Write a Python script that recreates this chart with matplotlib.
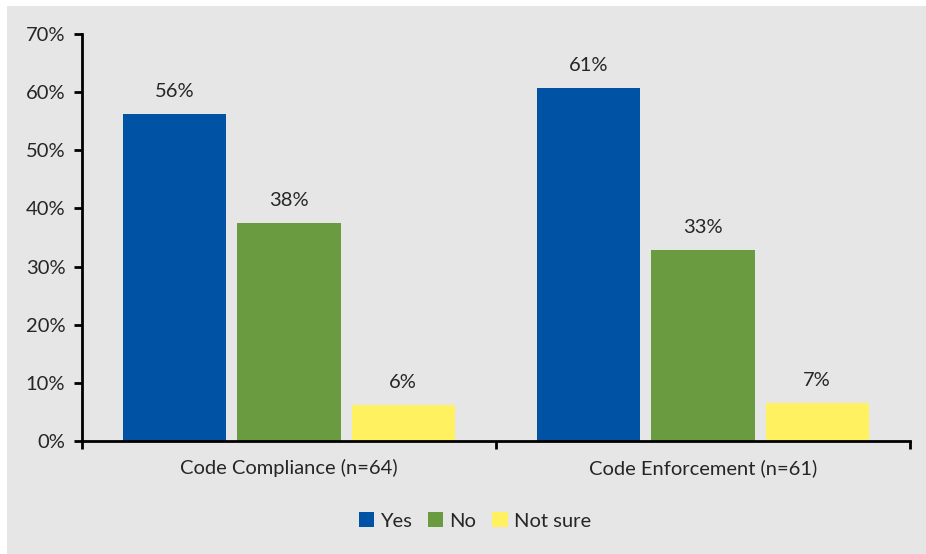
import matplotlib
matplotlib.use("Agg")
import matplotlib.pyplot as plt
from matplotlib.patches import Rectangle
import numpy as np

categories = ["Code Compliance (n=64)", "Code Enforcement (n=61)"]
series = ["Yes", "No", "Not sure"]
yes_vals = [56.25, 60.66]
no_vals = [37.5, 32.79]
notsure_vals = [6.25, 6.56]
labels_yes = ["56%", "61%"]
labels_no = ["38%", "33%"]
labels_ns = ["6%", "7%"]
colors = ["#0053A4", "#6A9B40", "#FFF160"]
yticks = [0, 10, 20, 30, 40, 50, 60, 70]

plt.rcParams['font.family'] = ['Lato', 'DejaVu Sans']
W, H = 926, 554
fs = 14.5
fig = plt.figure(figsize=(W/100, H/100), dpi=100, facecolor="white")
fig.patches.append(Rectangle((7/W, 0), 1 - 7/W, 1 - 6/H, transform=fig.transFigure,
                             facecolor="#E6E6E6", edgecolor="none", zorder=-10))
ax = fig.add_axes([82/W, 113/H, (910-82)/W, (441-34)/H])
ax.set_facecolor("none")

x = np.arange(len(categories))
bw = 0.249
step = 0.2755
tc = "#262626"
for i, (vals, labs) in enumerate(zip([yes_vals, no_vals, notsure_vals], [labels_yes, labels_no, labels_ns])):
    pos = x + (i - 1) * step
    ax.bar(pos, vals, width=bw, color=colors[i], label=series[i], zorder=2)
    for p, v, l in zip(pos, vals, labs):
        ax.text(p, v + 2.4, l, ha="center", va="bottom", fontsize=fs, color=tc)

ax.set_xlim(-0.5, 1.5)
ax.set_ylim(0, 70)
ax.set_yticks(yticks)
ax.set_yticklabels([f"{t}%" for t in yticks], fontsize=fs, color=tc)
ax.set_xticks([-0.5, 0.5, 1.5])
ax.set_xticklabels([])
ax.set_xticks(x, minor=True)
ax.set_xticklabels(categories, minor=True, fontsize=fs, color=tc)
ax.tick_params(axis="x", which="minor", length=0, pad=13)
ax.tick_params(axis="x", which="major", length=6, width=2, direction="out", color="black")
ax.tick_params(axis="y", length=6, width=2, direction="out", color="black", pad=6)
for s in ["top", "right"]:
    ax.spines[s].set_visible(False)
for s in ["left", "bottom"]:
    ax.spines[s].set_linewidth(2)
    ax.spines[s].set_color("black")

leg = fig.legend(loc="center", bbox_to_anchor=(475/W, 1 - 521/H), ncol=3, frameon=False,
                 fontsize=fs, handlelength=0.75, handleheight=0.75, handletextpad=0.3,
                 columnspacing=0.8)
for t in leg.get_texts():
    t.set_color(tc)

fig.savefig("out.png", dpi=100, facecolor="white")
